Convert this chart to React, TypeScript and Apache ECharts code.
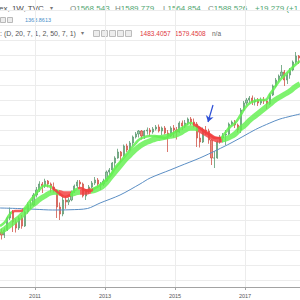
import React, { useEffect, useRef } from "react";
import * as echarts from "echarts";

// ---- monthly candles, Jan 2010 .. Jul 2018 ----
const candleStartYear = 2010;
const opens = [
  892, 880, 900, 948, 972, 932, 908, 948, 916, 972, 1000, 1000,
  1040, 1060, 1084, 1076, 1096, 1084, 1072, 1060, 992, 964, 1020, 1012,
  1020, 1052, 1076, 1092, 1084, 1036, 1060, 1072, 1088, 1100, 1084, 1084,
  1096, 1132, 1140, 1168, 1188, 1212, 1196, 1236, 1220, 1248, 1272, 1284,
  1296, 1276, 1296, 1300, 1292, 1304, 1312, 1296, 1308, 1288, 1276, 1308,
  1300, 1292, 1328, 1316, 1328, 1344, 1332, 1324, 1268, 1252, 1300, 1296,
  1260, 1188, 1188, 1252, 1268, 1280, 1284, 1324, 1332, 1320, 1300, 1380,
  1408, 1420, 1428, 1412, 1420, 1408, 1420, 1416, 1404, 1440, 1476, 1500,
  1516, 1532, 1500, 1520, 1540, 1572, 1596,
];
const closes = [
  880, 900, 948, 972, 932, 908, 948, 916, 972, 1000, 1000, 1040,
  1060, 1084, 1076, 1096, 1084, 1072, 1060, 992, 964, 1020, 1012, 1020,
  1052, 1076, 1092, 1084, 1036, 1060, 1072, 1088, 1100, 1084, 1084, 1096,
  1132, 1140, 1168, 1188, 1212, 1196, 1236, 1220, 1248, 1272, 1284, 1296,
  1276, 1296, 1300, 1292, 1304, 1312, 1296, 1308, 1288, 1276, 1308, 1300,
  1292, 1328, 1316, 1328, 1344, 1332, 1324, 1268, 1252, 1300, 1296, 1260,
  1188, 1188, 1252, 1268, 1280, 1284, 1324, 1332, 1320, 1300, 1380, 1408,
  1420, 1428, 1412, 1420, 1408, 1420, 1416, 1404, 1440, 1476, 1500, 1516,
  1532, 1500, 1520, 1540, 1572, 1596, 1588,
];
const lows = [
  862, 868, 896, 940, 892, 890, 900, 905, 912, 965, 985, 995,
  1030, 1052, 1048, 1068, 1070, 1050, 1050, 948, 940, 955, 985, 1000,
  1015, 1048, 1068, 1070, 1030, 1020, 1045, 1068, 1080, 1075, 1060, 1076,
  1094, 1120, 1136, 1150, 1185, 1170, 1192, 1212, 1216, 1236, 1266, 1270,
  1262, 1264, 1282, 1275, 1285, 1298, 1290, 1280, 1282, 1212, 1272, 1270,
  1262, 1288, 1300, 1308, 1320, 1318, 1310, 1232, 1230, 1248, 1280, 1245,
  1160, 1148, 1185, 1245, 1250, 1240, 1280, 1318, 1308, 1290, 1288, 1376,
  1400, 1408, 1400, 1398, 1396, 1400, 1404, 1384, 1400, 1436, 1470, 1494,
  1508, 1476, 1484, 1505, 1535, 1565, 1564,
];
const highs = [
  905, 910, 955, 990, 980, 945, 955, 960, 978, 1010, 1018, 1048,
  1072, 1095, 1092, 1105, 1100, 1090, 1090, 1062, 1010, 1035, 1035, 1030,
  1058, 1082, 1100, 1100, 1090, 1064, 1080, 1096, 1112, 1108, 1092, 1105,
  1138, 1148, 1172, 1195, 1225, 1216, 1242, 1245, 1256, 1278, 1292, 1300,
  1300, 1300, 1310, 1308, 1312, 1320, 1322, 1314, 1316, 1300, 1315, 1320,
  1312, 1335, 1338, 1340, 1350, 1352, 1346, 1332, 1290, 1310, 1316, 1305,
  1262, 1215, 1258, 1280, 1288, 1300, 1330, 1338, 1340, 1326, 1388, 1416,
  1428, 1436, 1438, 1430, 1428, 1430, 1432, 1422, 1446, 1482, 1508, 1522,
  1560, 1540, 1530, 1548, 1578, 1612, 1600,
];

// ---- ribbon bands, sampled 7 times a year from 2010.0 ----
const bandStartYear = 2010;
const bandStepsPerYear = 7;
const fastBand = [
  916, 932, 964, 976, 976, 988, 1016,
  1040, 1064, 1078, 1074, 1060, 1044, 1032,
  1040, 1060, 1068, 1060, 1056, 1068, 1080,
  1096, 1116, 1148, 1172, 1196, 1220, 1244,
  1264, 1272, 1276, 1276, 1272, 1268, 1280,
  1292, 1304, 1316, 1328, 1320, 1308, 1292,
  1280, 1268, 1268, 1288, 1312, 1328, 1356,
  1388, 1408, 1416, 1420, 1420, 1444, 1472,
  1500, 1520, 1540, 1560, 1576,
];
const slowBand = [
  892, 904, 920, 936, 952, 972, 992,
  1008, 1024, 1036, 1048, 1052, 1048, 1044,
  1044, 1048, 1052, 1052, 1056, 1060, 1068,
  1084, 1108, 1132, 1156, 1180, 1200, 1220,
  1236, 1248, 1256, 1264, 1268, 1272, 1276,
  1280, 1288, 1300, 1308, 1308, 1300, 1288,
  1276, 1264, 1260, 1264, 1272, 1284, 1304,
  1320, 1340, 1356, 1372, 1388, 1404, 1420,
  1432, 1444, 1456, 1472, 1484,
];
const fastRedRanges = [
  [2010.34, 2010.66],
  [2011.48, 2012.0],
  [2012.22, 2012.66],
  [2015.52, 2016.3],
];
const slowRedRanges = [
  [2011.68, 2012.02],
  [2012.3, 2012.6],
  [2015.66, 2016.34],
];

// ---- long moving average ----
const longMaDates = [
  2010.0, 2010.5, 2011.0, 2011.5, 2012.0, 2012.5, 2012.86, 2013.43, 2014.0,
  2014.29, 2014.86, 2015.14, 2015.71, 2016.2, 2016.6, 2016.94, 2017.3,
  2017.71, 2018.0, 2018.571,
];
const longMa = [
  988, 986, 983, 980, 981, 986, 1008, 1040, 1084,
  1108, 1140, 1156, 1188, 1220, 1248, 1274, 1302,
  1328, 1344, 1364,
];

// ---- axes ----
const yearTicks = [2011, 2013, 2015, 2017];
const priceGrid = [
  700, 760, 820, 880, 940, 1000, 1060, 1120, 1180, 1240, 1300, 1360, 1420,
  1480, 1540, 1600, 1660, 1720, 1780,
];
const xMin = 2010;
const xMax = 2018.571;
const yMin = 672;
const yMax = 1820;

// ---- legend texts ----
const symbolText = "ex, 1W, TVC";
const ohlc = [
  ["O", "1568.543"],
  ["H", "1589.779"],
  ["L", "1564.854"],
  ["C", "1588.526"],
];
const changeText = "+19.279 (+1";
const maValueText = "1363.8613";
const ribbonParams = ": (D, 20, 7, 1, 2, 50, 7, 1)";
const ribbonValues = ["1483.4057", "1579.4508"];
const naText = "n/a";

// arrow annotation (data coords)
const arrowFrom = [2016.086, 1400];
const arrowTo = [2015.943, 1332];

const GREEN = "#62f04f";
const RED = "#f23d3d";
const FONT = "'Liberation Sans', Arial, sans-serif";

function buildOption() {
  const candleData = opens.map((o, i) => [
    candleStartYear + (i + 0.5) / 12,
    o,
    closes[i],
    lows[i],
    highs[i],
  ]);
  const fastData = fastBand.map((v, i) => [bandStartYear + i / bandStepsPerYear, v]);
  const slowData = slowBand.map((v, i) => [bandStartYear + i / bandStepsPerYear, v]);
  const longData = longMa.map((v, i) => [longMaDates[i], v]);

  const ohlcX = [70, 115, 163, 208];
  const graphic: any[] = [
    { type: "text", x: -1, y: 8, style: { text: symbolText, fontSize: 8, fill: "#4a4a4a", verticalAlign: "middle", fontFamily: FONT } },
    { type: "text", x: 50, y: 8, style: { text: "▾", fontSize: 6, fill: "#777", verticalAlign: "middle", fontFamily: FONT } },
    ...ohlc.map(([l, v], i) => ({
      type: "text",
      x: ohlcX[i],
      y: 8,
      style: {
        text: `{l|${l}}{v|${v}}`,
        verticalAlign: "middle",
        rich: {
          l: { fontSize: 8, fill: "#7d8a82", fontFamily: FONT },
          v: { fontSize: 8, fill: "#4ea56f", fontFamily: FONT },
        },
      },
    })),
    { type: "text", x: 255, y: 8, style: { text: changeText, fontSize: 8, fill: "#4ea56f", verticalAlign: "middle", fontFamily: FONT } },
    // row 2 icons
    { type: "rect", shape: { x: 0.5, y: 17.5, width: 5, height: 5 }, style: { fill: "#ececec", stroke: "#b9b9b9", lineWidth: 1 } },
    { type: "rect", shape: { x: 7.5, y: 17.5, width: 5, height: 5 }, style: { fill: "#ececec", stroke: "#b9b9b9", lineWidth: 1 } },
    { type: "text", x: 25, y: 20, style: { text: maValueText, fontSize: 5.5, fill: "#4a8fc9", verticalAlign: "middle", fontFamily: FONT } },
    // row 3
    { type: "text", x: 0, y: 33, style: { text: ribbonParams, fontSize: 7, fill: "#555", verticalAlign: "middle", fontFamily: FONT } },
    { type: "text", x: 81, y: 33, style: { text: "▾", fontSize: 6, fill: "#777", verticalAlign: "middle", fontFamily: FONT } },
    ...[93, 101, 109, 117, 125].map((x) => ({
      type: "rect",
      shape: { x: x + 0.5, y: 30.5, width: 6, height: 6 },
      style: { fill: "#ececec", stroke: "#bcbcbc", lineWidth: 1 },
    })),
    { type: "text", x: 140, y: 33, style: { text: ribbonValues[0], fontSize: 6.5, fill: "#e0383e", verticalAlign: "middle", fontFamily: FONT } },
    { type: "text", x: 175, y: 33, style: { text: ribbonValues[1], fontSize: 6.5, fill: "#e0383e", verticalAlign: "middle", fontFamily: FONT } },
    { type: "text", x: 212, y: 33, style: { text: naText, fontSize: 6.5, fill: "#666", verticalAlign: "middle", fontFamily: FONT } },
  ];

  return {
    animation: false,
    backgroundColor: "#ffffff",
    grid: { left: 0, right: 0, top: 0, bottom: 13, containLabel: false },
    xAxis: {
      type: "value",
      min: xMin,
      max: xMax,
      axisLine: { show: true, lineStyle: { color: "#a3a3a3", width: 1 } },
      axisTick: { show: true, customValues: yearTicks, length: 3, lineStyle: { color: "#a3a3a3" } },
      axisLabel: {
        show: true,
        customValues: yearTicks,
        fontSize: 5.5,
        color: "#555",
        margin: 6,
        fontFamily: FONT,
        formatter: (v: number) => String(Math.round(v)),
      },
      splitLine: { show: false },
    },
    yAxis: {
      type: "value",
      min: yMin,
      max: yMax,
      show: false,
      splitLine: { show: false },
    },
    visualMap: [
      {
        type: "piecewise",
        show: false,
        seriesIndex: 4,
        dimension: 0,
        pieces: fastRedRanges.map(([a, b]) => ({ gte: a, lte: b, color: RED })),
        outOfRange: { color: GREEN },
      },
      {
        type: "piecewise",
        show: false,
        seriesIndex: 3,
        dimension: 0,
        pieces: slowRedRanges.map(([a, b]) => ({ gte: a, lte: b, color: RED })),
        outOfRange: { color: GREEN },
      },
    ],
    graphic,
    series: [
      {
        type: "line",
        data: [],
        silent: true,
        z: 0,
        markLine: {
          z: 0,
          silent: true,
          symbol: ["none", "none"],
          label: { show: false },
          lineStyle: { color: "#ececec", width: 1, type: "solid" },
          data: [
            ...yearTicks.map((v) => ({ xAxis: v })),
            ...priceGrid.map((v) => ({ yAxis: v })),
          ],
        },
      },
      {
        type: "candlestick",
        data: candleData,
        barWidth: 1.6,
        z: 2,
        itemStyle: {
          color: "#9cc7a8",
          color0: "#ec8a80",
          borderColor: "#5e9b72",
          borderColor0: "#d0554a",
          borderWidth: 0.8,
        },
      },
      {
        type: "line",
        data: longData,
        showSymbol: false,
        smooth: 0.3,
        z: 3,
        lineStyle: { color: "#5b8ec4", width: 1 },
        markLine: {
          z: 10,
          silent: true,
          symbol: ["none", "arrow"],
          symbolSize: 6,
          label: { show: false },
          lineStyle: { color: "#2d4fd6", width: 1.2, type: "solid" },
          data: [[{ coord: arrowFrom }, { coord: arrowTo }]],
        },
      },
      {
        type: "line",
        data: slowData,
        showSymbol: false,
        smooth: true,
        z: 4,
        lineStyle: { width: 5.5, opacity: 0.82 },
      },
      {
        type: "line",
        data: fastData,
        showSymbol: false,
        smooth: true,
        z: 5,
        lineStyle: { width: 2.6, opacity: 0.85 },
      },
    ],
  };
}

export default function App() {
  const ref = useRef<HTMLDivElement>(null);
  useEffect(() => {
    if (!ref.current) return;
    const chart = echarts.init(ref.current, null, { renderer: "svg" });
    chart.setOption(buildOption() as any);
    return () => chart.dispose();
  }, []);
  return (
    <div
      ref={ref}
      style={{ position: "fixed", left: 0, top: 0, width: 300, height: 300, background: "#fff" }}
    />
  );
}
